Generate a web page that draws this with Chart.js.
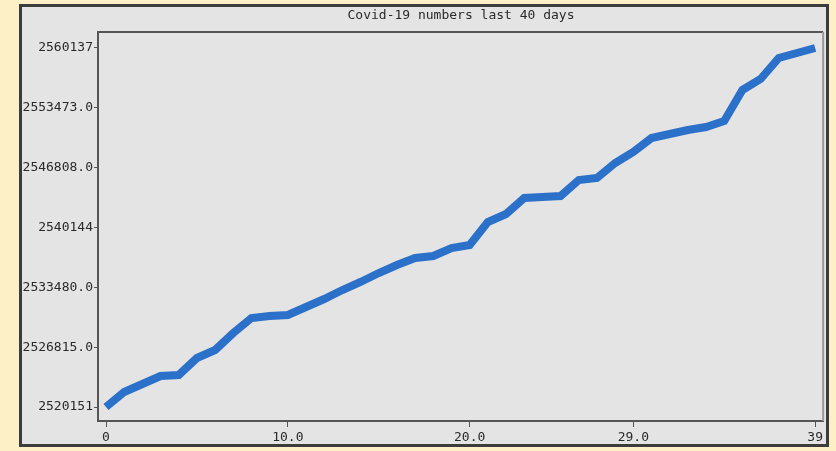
<!DOCTYPE html>
<html>
<head>
<meta charset="utf-8">
<script src="https://cdn.jsdelivr.net/npm/chart.js@4/dist/chart.umd.min.js"></script>
<style>
  html, body { margin: 0; padding: 0; background: #fdefc6; }
  .frame {
    position: absolute; left: 19px; top: 4px;
    width: 804px; height: 437px;
    border: 3px solid #3c3c3c;
    background: #e4e4e4;
  }
  canvas { display: block; }
</style>
</head>
<body>
<div class="frame"><canvas id="covid" width="804" height="437"></canvas></div>
<script>
/* ---------- DATA ---------- */
const days = [0,1,2,3,4,5,6,7,8,9,10,11,12,13,14,15,16,17,18,19,
              20,21,22,23,24,25,26,27,28,29,30,31,32,33,34,35,36,37,38,39];
const cases = [2520151, 2521822, 2522713, 2523604, 2523715, 2525609, 2526500, 2528393, 2530064, 2530287,
               2530398, 2531289, 2532180, 2533182, 2534074, 2535076, 2535967, 2536747, 2536969, 2537860,
               2538195, 2540756, 2541647, 2543429, 2543541, 2543652, 2545434, 2545657, 2547328, 2548553,
               2550112, 2550558, 2551003, 2551337, 2552006, 2555458, 2556684, 2559023, 2559580, 2560137];
const yTickValues = [2520151, 2526815, 2533480, 2540144, 2546808, 2553473, 2560137];
const yTickLabels = ['2520151', '2526815.0', '2533480.0', '2540144', '2546808.0', '2553473.0', '2560137'];
const xTickValues = [0, 10, 20, 29, 39];
const xTickLabels = ['0', '10.0', '20.0', '29.0', '39'];
const chartTitle = 'Covid-19 numbers last 40 days';

const MONO = '"DejaVu Sans Mono", monospace';

/* ---------- title + plot box ---------- */
const boxPlugin = {
  id: 'box',
  afterDraw(chart) {
    const { ctx, chartArea: a } = chart;
    ctx.save();
    ctx.fillStyle = '#2a2a2a';
    ctx.font = '13px ' + MONO;
    ctx.textAlign = 'center';
    ctx.textBaseline = 'middle';
    ctx.fillText(chartTitle, 439, 9);
    // top line
    ctx.strokeStyle = '#555';
    ctx.lineWidth = 2;
    ctx.beginPath();
    ctx.moveTo(a.left, a.top); ctx.lineTo(a.right, a.top);
    ctx.stroke();
    // right line (lighter)
    ctx.strokeStyle = '#9a9a9a';
    ctx.beginPath();
    ctx.moveTo(a.right, a.top); ctx.lineTo(a.right, a.bottom);
    ctx.stroke();
    ctx.restore();
  }
};

/* ---------- CHART ---------- */
new Chart(document.getElementById('covid').getContext('2d'), {
  type: 'line',
  data: {
    datasets: [{
      data: days.map((d, i) => ({ x: d, y: cases[i] })),
      borderColor: '#2b70c9',
      borderWidth: 8,
      pointRadius: 0,
      tension: 0,
      fill: false
    }]
  },
  options: {
    responsive: false,
    animation: false,
    layout: { padding: { top: 25, right: 2, left: 0, bottom: 0 } },
    plugins: { legend: { display: false }, title: { display: false }, tooltip: { enabled: false } },
    scales: {
      x: {
        type: 'linear',
        min: -0.44, max: 39.44,
        afterBuildTicks: s => { s.ticks = xTickValues.map(v => ({ value: v })); },
        afterFit: s => { s.height = 23; },
        grid: { drawOnChartArea: false, tickLength: 6, color: '#555', tickWidth: 1 },
        border: { color: '#555', width: 2 },
        ticks: {
          color: '#2a2a2a', padding: 3, maxRotation: 0,
          font: { family: MONO, size: 13 },
          callback: (v) => xTickLabels[xTickValues.indexOf(v)]
        }
      },
      y: {
        min: 2518592, max: 2561919,
        afterBuildTicks: s => { s.ticks = yTickValues.map(v => ({ value: v })); },
        afterFit: s => { s.width = 76; },
        grid: { drawOnChartArea: false, tickLength: 4, color: '#555', tickWidth: 1 },
        border: { color: '#555', width: 2 },
        ticks: {
          color: '#2a2a2a', padding: 1,
          font: { family: MONO, size: 13 },
          callback: (v) => yTickLabels[yTickValues.indexOf(v)]
        }
      }
    }
  },
  plugins: [boxPlugin]
});
</script>
</body>
</html>
